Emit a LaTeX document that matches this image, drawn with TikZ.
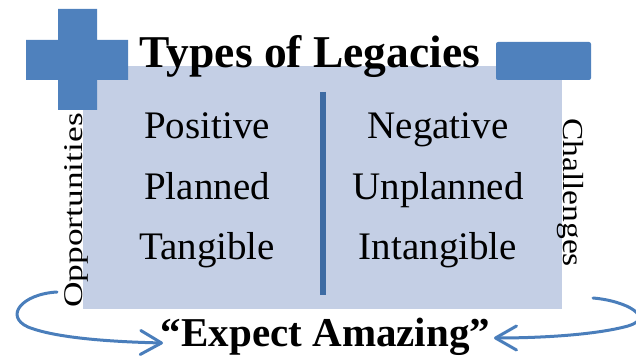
\documentclass[tikz,border=0pt]{standalone}
\usepackage{fontspec}
\setmainfont{Liberation Serif}
\usetikzlibrary{arrows.meta}
\definecolor{boxfill}{HTML}{C4CFE5}
\definecolor{symfill}{HTML}{4F81BD}
\definecolor{divider}{HTML}{3D6BA3}
\definecolor{arrowc}{HTML}{4A7EBB}
\tikzset{
  item/.style={anchor=base, inner sep=0pt, font=\fontsize{39}{39}\selectfont},
  side/.style={anchor=base, inner sep=0pt},
  curvearrow/.style={draw=arrowc, line width=3pt, line cap=round,
    -{Straight Barb[length=21pt,width=24pt,line width=3pt,round]}},
}
\begin{document}
\begin{tikzpicture}[x=1pt,y=-1pt]
\useasboundingbox (0,0) rectangle (636,358);
% background panel
\fill[boxfill] (83,66) rectangle (562,309);
% plus sign
\fill[symfill] (58,9) -- (97,9) -- (97,40) -- (128,40) -- (128,80) -- (97,80)
  -- (97,110) -- (58,110) -- (58,80) -- (26,80) -- (26,40) -- (58,40) -- cycle;
% minus sign
\fill[symfill, rounded corners=2pt] (496,42) rectangle (591,80);
% divider
\coordinate (dtop) at (322.5,92);
\coordinate (dbot) at (322.5,295);
\draw[divider, line width=6pt] (dtop) -- (dbot);
% title
\node[anchor=base, inner sep=0pt, font=\fontsize{45.5}{45.5}\selectfont\bfseries] (title) at (310,68) {Types of Legacies};
% columns
\node[item] (pos) at (207,139) {Positive};
\node[item] (pla) at (207,199) {Planned};
\node[item] (tan) at (207,259) {Tangible};
\node[item] (neg) at (438,139) {Negative};
\node[item] (unp) at (438,199) {Unplanned};
\node[item] (int) at (438,259) {Intangible};
% side labels
\node[side, rotate=90, xscale=1.31, font=\fontsize{27}{27}\selectfont] (opp) at (82,210.5) {Opportunities};
\node[side, rotate=-90, xscale=1.156, font=\fontsize{29}{29}\selectfont] (cha) at (563,192.5) {Challenges};
% motto
\node[anchor=base, inner sep=0pt, font=\fontsize{41}{41}\selectfont\bfseries] (motto) at (325.5,346) {“Expect Amazing”};
% arrows
\coordinate (ls) at (57,292);
\coordinate (lt) at (163,343);
\coordinate (rs) at (593,298);
\coordinate (rt) at (494,338);
\draw[curvearrow] (ls) .. controls (22,294) and (4,316) .. (28,327)
  .. controls (58,339) and (120,342) .. (lt);
\draw[curvearrow] (rs) .. controls (628,301) and (655,318) .. (628,326)
  .. controls (595,335) and (540,338) .. (rt);
\end{tikzpicture}
\end{document}
